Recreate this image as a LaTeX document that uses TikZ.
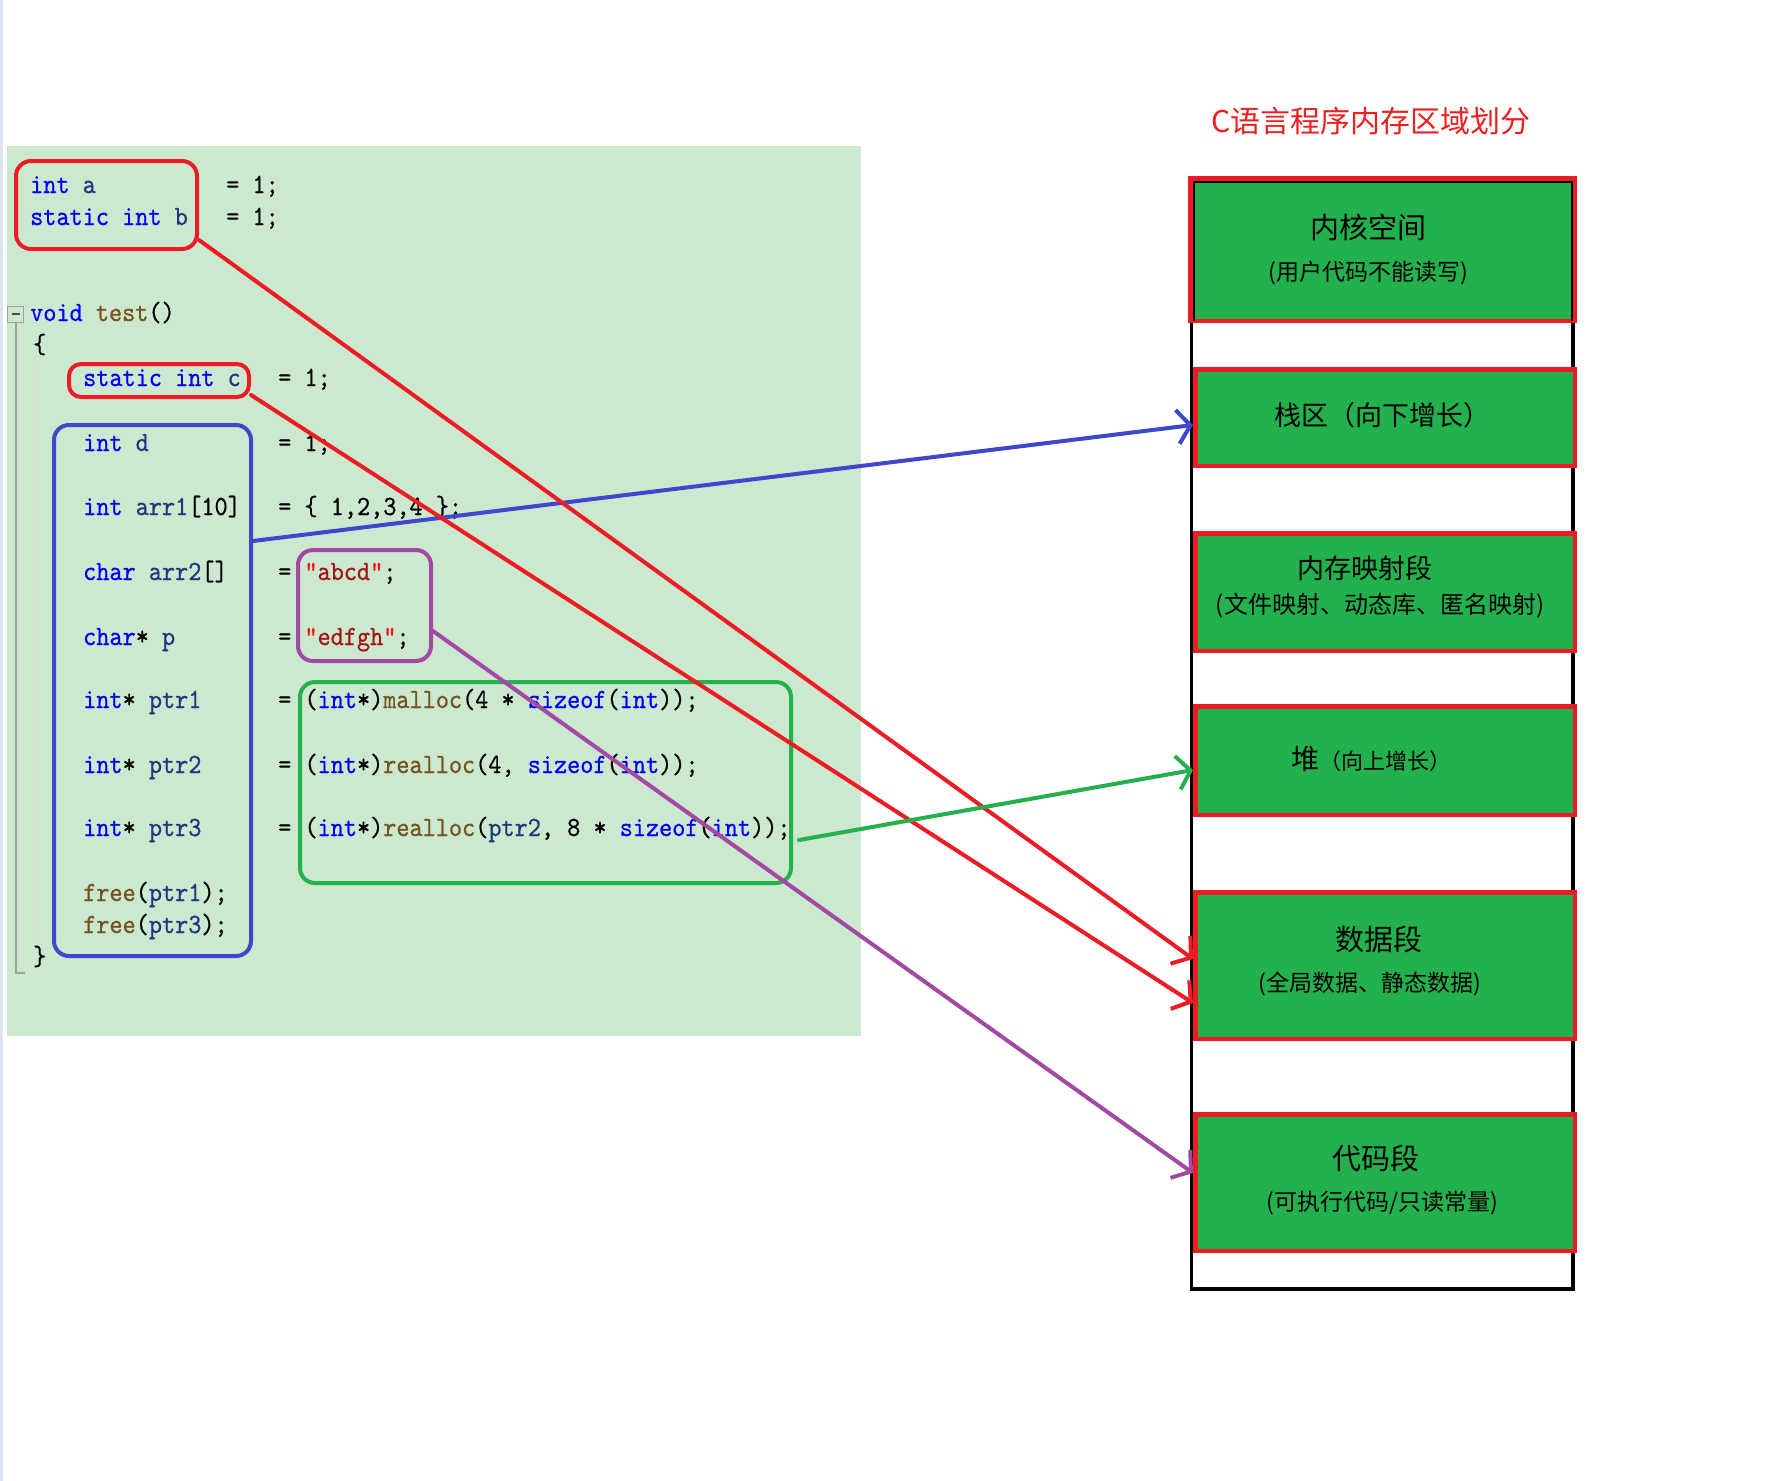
\documentclass[tikz,border=0pt]{standalone}
\usepackage{fontspec}
\newfontfamily\cjk{Noto Sans CJK SC}
\newfontfamily\codefont{lmmono10-regular.otf}[FakeStretch=0.9,FakeBold=0.6]
\usetikzlibrary{arrows.meta}
\definecolor{codebg}{HTML}{CCE8CF}
\definecolor{pred}{HTML}{ED1C24}
\definecolor{pblue}{HTML}{3F48CC}
\definecolor{pgreen}{HTML}{22B14C}
\definecolor{ppurple}{HTML}{A349A4}
\definecolor{kwc}{HTML}{0000FF}
\definecolor{fnc}{HTML}{74531F}
\definecolor{vrc}{HTML}{1F377F}
\definecolor{stc}{HTML}{A31515}
\definecolor{qtc}{HTML}{FF1010}
\definecolor{titlered}{HTML}{F01E1E}
\definecolor{foldgray}{HTML}{A0A0A0}
\definecolor{dashpink}{HTML}{E6D6DC}
\definecolor{edgeblue}{HTML}{DDE4F4}
\newcommand\ckw[1]{\textcolor{kwc}{#1}}
\newcommand\cfn[1]{\textcolor{fnc}{#1}}
\newcommand\cvr[1]{\textcolor{vrc}{#1}}
\newcommand\cst[1]{\textcolor{stc}{#1}}
\newcommand\cqt{\textcolor{qtc}{"}}
\tikzset{
  code/.style={anchor=base west, inner sep=0pt, font=\codefont\fontsize{27.8}{32}\selectfont},
  hl/.style={draw, line width=4pt, rounded corners=15pt, inner sep=0pt},
  mem/.style={draw=pred, fill=pgreen, line width=4.5pt, inner sep=0pt, minimum width=379.5pt},
  memtitle/.style={font=\cjk\fontsize{29}{34}\selectfont, inner sep=0pt},
  memsub/.style={font=\cjk\fontsize{23}{28}\selectfont, inner sep=0pt},
  arr/.style={line width=4pt, line cap=round, -{Straight Barb[length=13pt,width=34pt]}},
}
\begin{document}
\begin{tikzpicture}[x=1pt,y=-1pt]
\fill[white] (0,0) rectangle (1789,1481);
\useasboundingbox (0,0) rectangle (1789,1481);
\draw[edgeblue, line width=3pt] (1.5,0) -- (1.5,1481);

% code panel
\fill[codebg] (7,146) rectangle (861,1036);
\node[draw=foldgray, line width=1pt, minimum size=16pt, inner sep=0pt] (fold) at (15.5,314) {};
\draw[black!70, line width=1.5pt] ([xshift=-4pt]fold.center) -- ([xshift=4pt]fold.center);
\draw[foldgray, line width=2pt] (fold.south) -- (15.5,973) -- (25,973);
\draw[dashpink, dashed, line width=1.5pt] (35,367) -- (35,943);

\node[code] (l1) at (30,193) {\ckw{int} \cvr{a}};
\node[code] (l1r) at (226,193) {= 1;};
\node[code] (l2) at (30,225) {\ckw{static} \ckw{int} \cvr{b}};
\node[code] (l2r) at (226,225) {= 1;};
\node[code] (l3) at (30,321) {\ckw{void} \cfn{test}()};
\node[code] (l4) at (33,353) {\{};
\node[code] (l5) at (83,386) {\ckw{static} \ckw{int} \cvr{c}};
\node[code] (l5r) at (278,386) {= 1;};
\node[code] (l6) at (83,451) {\ckw{int} \cvr{d}};
\node[code] (l6r) at (278,451) {= 1;};
\node[code] (l7) at (83,515) {\ckw{int} \cvr{arr1}[10]};
\node[code] (l7r) at (278,515) {= \{ 1,2,3,4 \};};
\node[code] (l8) at (83,580) {\ckw{char} \cvr{arr2}[]};
\node[code] (l8r) at (278,580) {= \cqt\cst{abcd}\cqt;};
\node[code] (l9) at (83,645) {\ckw{char}* \cvr{p}};
\node[code] (l9r) at (278,645) {= \cqt\cst{edfgh}\cqt;};
\node[code] (l10) at (83,708) {\ckw{int}* \cvr{ptr1}};
\node[code] (l10r) at (278,708) {= (\ckw{int}*)\cfn{malloc}(4 * \ckw{sizeof}(\ckw{int}));};
\node[code] (l11) at (83,773) {\ckw{int}* \cvr{ptr2}};
\node[code] (l11r) at (278,773) {= (\ckw{int}*)\cfn{realloc}(4, \ckw{sizeof}(\ckw{int}));};
\node[code] (l12) at (83,836) {\ckw{int}* \cvr{ptr3}};
\node[code] (l12r) at (278,836) {= (\ckw{int}*)\cfn{realloc}(\cvr{ptr2}, 8 * \ckw{sizeof}(\ckw{int}));};
\node[code] (l13) at (83,901) {\cfn{free}(\cvr{ptr1});};
\node[code] (l14) at (83,933) {\cfn{free}(\cvr{ptr3});};
\node[code] (l15) at (33,965) {\}};

% highlight boxes
\node[hl, draw=pred, minimum width=181pt, minimum height=88pt] (r1) at (106.5,205) {};
\node[hl, draw=pred, minimum width=180pt, minimum height=33pt, rounded corners=12pt] (r2) at (159,380.5) {};
\node[hl, draw=pblue, minimum width=197pt, minimum height=531pt] (bluebox) at (152.5,690.5) {};
\node[hl, draw=ppurple, minimum width=133pt, minimum height=111pt] (pbox) at (364.5,605.5) {};
\node[hl, draw=pgreen, minimum width=491pt, minimum height=201pt] (gbox) at (545.5,782.5) {};

% memory layout
\node[font=\cjk\fontsize{30}{36}\selectfont, text=titlered, inner sep=0pt] (title) at (1371,121) {C语言程序内存区域划分};
\draw[black, line width=3.5pt] (1191.5,181) rectangle (1573,1289);
\node[mem, minimum width=384.5pt, minimum height=142.5pt] (b1) at (1382.5,249.5) {};
\draw[black, line width=2pt] (1194,321) -- (1194,182) -- (1572,182) -- (1572,321);
\node[mem, minimum height=96.5pt] (b2) at (1385,417.5) {};
\node[mem, minimum height=117.5pt] (b3) at (1385,592) {};
\node[mem, minimum height=108.5pt] (b4) at (1385,760.5) {};
\node[mem, minimum height=146.5pt] (b5) at (1385,965.5) {};
\node[mem, minimum height=136.5pt] (b6) at (1385,1182.5) {};

\node[memtitle] (b1t) at (1368,227) {内核空间};
\node[memsub] (b1s) at (1368,273) {(用户代码不能读写)};
\node[memtitle, font=\cjk\fontsize{27}{32}\selectfont] (b2t) at (1382,415) {栈区（向下增长）};
\node[memtitle, font=\cjk\fontsize{27}{32}\selectfont] (b3t) at (1365,568) {内存映射段};
\node[memsub, font=\cjk\fontsize{24}{28}\selectfont] (b3s) at (1380,606) {(文件映射、动态库、匿名映射)};
\node[memtitle, anchor=base] (b4t) at (1371,769) {{\fontsize{28}{32}\selectfont 堆}{\fontsize{22}{26}\selectfont （向上增长）}};
\node[memtitle] (b5t) at (1379,939) {数据段};
\node[memsub] (b5s) at (1370,984) {(全局数据、静态数据)};
\node[memtitle] (b6t) at (1376,1158) {代码段};
\node[memsub] (b6s) at (1382,1203) {(可执行代码/只读常量)};

% connectors
\draw[arr, pblue] ([yshift=149.5pt]bluebox.east) -- ([yshift=-7.5pt]b2.west);
\draw[arr, pred] ([yshift=-35pt]r1.east) -- ([yshift=6.5pt]b5.west);
\draw[arr, pred] ([yshift=-14.5pt]r2.east) -- ([yshift=-37.5pt]b5.west);
\draw[arr, ppurple] ([yshift=-25.5pt]pbox.east) -- ([yshift=9.5pt]b6.west);
\draw[arr, pgreen] ([xshift=6pt,yshift=-57.5pt]gbox.east) -- ([yshift=-9.5pt]b4.west);
\end{tikzpicture}
\end{document}
